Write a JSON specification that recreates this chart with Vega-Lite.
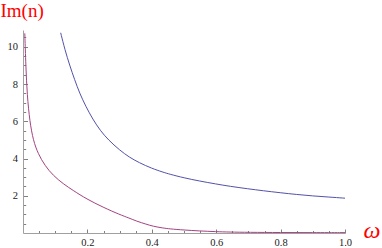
{
  "$schema": "https://vega.github.io/schema/vega-lite/v6.json",
  "width": 322,
  "height": 203,
  "autosize": {"type": "none"},
  "padding": {"left": 23, "top": 30, "right": 37, "bottom": 15},
  "background": "white",
  "config": {
    "view": {"stroke": null},
    "axis": {
      "grid": false,
      "domainColor": "#a0a0a0",
      "domainWidth": 1,
      "tickColor": "#808080",
      "tickWidth": 1,
      "labelFont": "Liberation Serif",
      "labelFontSize": 10.5,
      "labelColor": "#222222",
      "labelFlush": false,
      "labelOverlap": false,
      "labelBound": false,
      "titleFont": "Liberation Serif",
      "titleFontWeight": "normal",
      "titleColor": "#ff0000"
    }
  },
  "data": {
    "values": [
      {"s": "a", "w": 0.117, "v": 10.75},
      {"s": "a", "w": 0.13, "v": 9.85},
      {"s": "a", "w": 0.145, "v": 9.0},
      {"s": "a", "w": 0.16, "v": 8.25},
      {"s": "a", "w": 0.176, "v": 7.5},
      {"s": "a", "w": 0.195, "v": 6.8},
      {"s": "a", "w": 0.217, "v": 6.1},
      {"s": "a", "w": 0.24, "v": 5.5},
      {"s": "a", "w": 0.265, "v": 5.0},
      {"s": "a", "w": 0.3, "v": 4.45},
      {"s": "a", "w": 0.33, "v": 4.07},
      {"s": "a", "w": 0.36, "v": 3.78},
      {"s": "a", "w": 0.4, "v": 3.47},
      {"s": "a", "w": 0.434, "v": 3.27},
      {"s": "a", "w": 0.455, "v": 3.16},
      {"s": "a", "w": 0.5, "v": 2.96},
      {"s": "a", "w": 0.548, "v": 2.79},
      {"s": "a", "w": 0.6, "v": 2.63},
      {"s": "a", "w": 0.641, "v": 2.51},
      {"s": "a", "w": 0.7, "v": 2.37},
      {"s": "a", "w": 0.745, "v": 2.27},
      {"s": "a", "w": 0.8, "v": 2.16},
      {"s": "a", "w": 0.848, "v": 2.07},
      {"s": "a", "w": 0.9, "v": 1.99},
      {"s": "a", "w": 0.95, "v": 1.93},
      {"s": "a", "w": 1.0, "v": 1.87},
      {"s": "b", "w": 0.0056, "v": 10.72},
      {"s": "b", "w": 0.0087, "v": 9.0},
      {"s": "b", "w": 0.013, "v": 7.4},
      {"s": "b", "w": 0.021, "v": 5.98},
      {"s": "b", "w": 0.032, "v": 4.96},
      {"s": "b", "w": 0.047, "v": 4.25},
      {"s": "b", "w": 0.068, "v": 3.62},
      {"s": "b", "w": 0.094, "v": 3.08},
      {"s": "b", "w": 0.125, "v": 2.64},
      {"s": "b", "w": 0.156, "v": 2.28},
      {"s": "b", "w": 0.197, "v": 1.83},
      {"s": "b", "w": 0.249, "v": 1.38},
      {"s": "b", "w": 0.3, "v": 0.99},
      {"s": "b", "w": 0.33, "v": 0.8},
      {"s": "b", "w": 0.352, "v": 0.64},
      {"s": "b", "w": 0.383, "v": 0.47},
      {"s": "b", "w": 0.404, "v": 0.36},
      {"s": "b", "w": 0.434, "v": 0.27},
      {"s": "b", "w": 0.455, "v": 0.22},
      {"s": "b", "w": 0.5, "v": 0.16},
      {"s": "b", "w": 0.548, "v": 0.11},
      {"s": "b", "w": 0.6, "v": 0.07},
      {"s": "b", "w": 0.64, "v": 0.05},
      {"s": "b", "w": 0.7, "v": 0.035},
      {"s": "b", "w": 0.8, "v": 0.025},
      {"s": "b", "w": 0.9, "v": 0.02},
      {"s": "b", "w": 1.0, "v": 0.02}
    ]
  },
  "mark": {"type": "line", "strokeWidth": 1, "clip": true, "interpolate": "basis"},
  "encoding": {
    "x": {
      "field": "w",
      "type": "quantitative",
      "scale": {"domain": [0, 1], "nice": false, "zero": false},
      "axis": {
        "values": [0.05, 0.1, 0.15, 0.2, 0.25, 0.3, 0.35, 0.4, 0.45, 0.5, 0.55, 0.6, 0.65, 0.7, 0.75, 0.8, 0.85, 0.9, 0.95, 1.0],
        "labelExpr": "abs(datum.value*5 - round(datum.value*5)) < 0.001 ? format(datum.value, '.1f') : ''",
        "tickSize": {"condition": {"test": "abs(datum.value*5 - round(datum.value*5)) < 0.001", "value": -4}, "value": -2.5},
        "labelPadding": 8,
        "labelFont": "Liberation Serif",
        "labelFontSize": 10.5,
        "title": "ω",
        "titleFontSize": 24,
        "titleFontStyle": "italic",
        "titleAlign": "left",
        "titleBaseline": "alphabetic",
        "titleAnchor": "start",
        "titleX": 340,
        "titleY": 4.5
      }
    },
    "y": {
      "field": "v",
      "type": "quantitative",
      "scale": {"domain": [0, 10.9], "nice": false, "zero": false},
      "axis": {
        "values": [0.5, 1, 1.5, 2, 2.5, 3, 3.5, 4, 4.5, 5, 5.5, 6, 6.5, 7, 7.5, 8, 8.5, 9, 9.5, 10, 10.5],
        "labelExpr": "datum.value % 2 === 0 ? format(datum.value, 'd') : ''",
        "tickSize": {"condition": {"test": "datum.value % 2 === 0", "value": -4.5}, "value": -2.7},
        "labelPadding": 10,
        "labelFont": "Liberation Serif",
        "labelFontSize": 10.5,
        "title": "Im(n)",
        "titleFontSize": 19,
        "titleAngle": 0,
        "titleAlign": "left",
        "titleBaseline": "alphabetic",
        "titleAnchor": "start",
        "titleX": -23,
        "titleY": -13.5
      }
    },
    "color": {
      "field": "s",
      "type": "nominal",
      "scale": {"domain": ["a", "b"], "range": ["#5252aa", "#a3437f"]},
      "legend": null
    }
  }
}
